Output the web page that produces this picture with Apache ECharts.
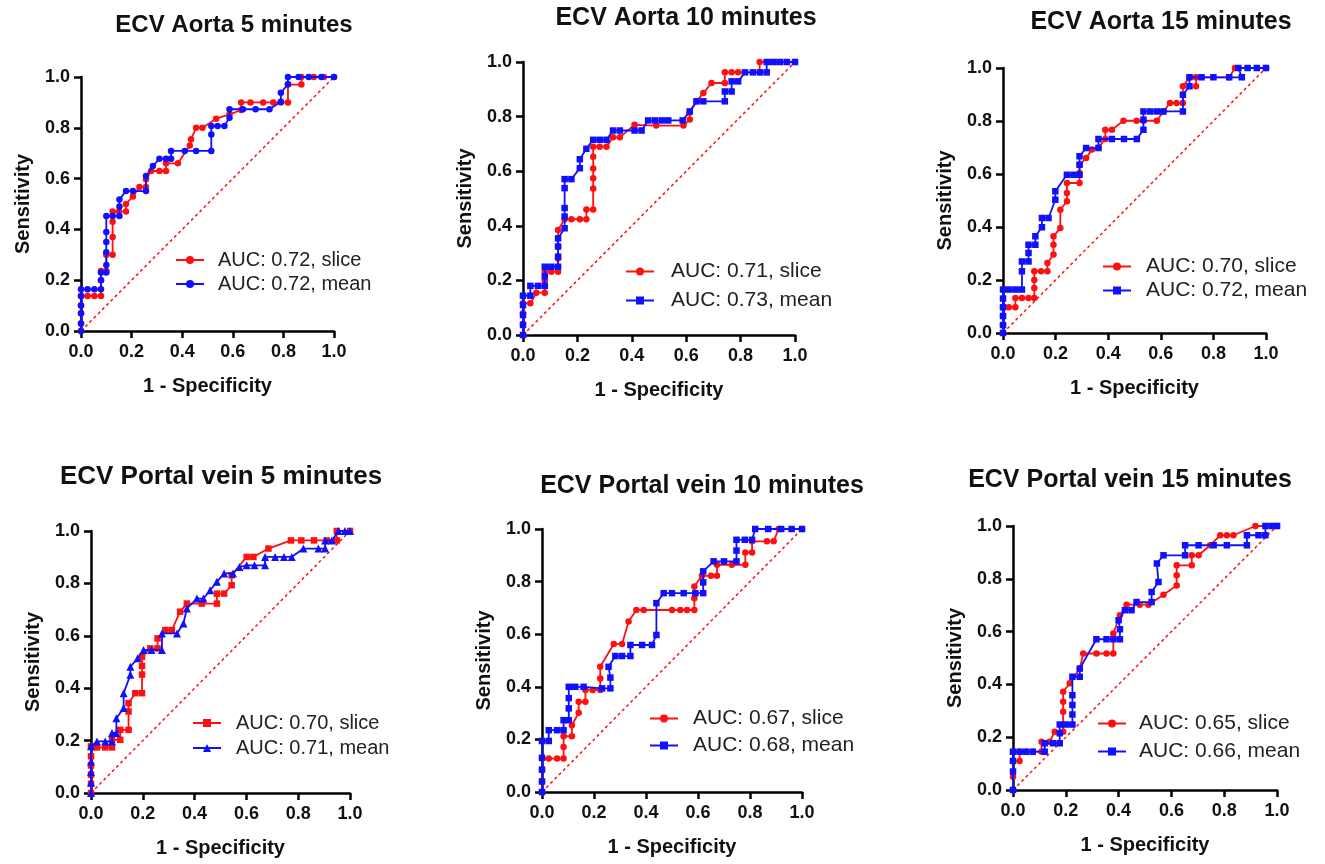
<!DOCTYPE html>
<html>
<head>
<meta charset="utf-8">
<script src="https://cdn.jsdelivr.net/npm/echarts@6/dist/echarts.min.js"></script>
<style>
  html, body { margin: 0; padding: 0; background: #fff; }
  #chart { width: 1325px; height: 864px; }
</style>
</head>
<body>
<div id="chart"></div>
<script>
// tick labels shared by every panel
const ticks = [0, 0.2, 0.4, 0.6, 0.8, 1.0];

const titles = [
  'ECV Aorta 5 minutes', 'ECV Aorta 10 minutes', 'ECV Aorta 15 minutes',
  'ECV Portal vein 5 minutes', 'ECV Portal vein 10 minutes', 'ECV Portal vein 15 minutes'
];
const sliceLabels = ['AUC: 0.72, slice', 'AUC: 0.71, slice', 'AUC: 0.70, slice',
  'AUC: 0.70, slice', 'AUC: 0.67, slice', 'AUC: 0.65, slice'];
const meanLabels = ['AUC: 0.72, mean', 'AUC: 0.73, mean', 'AUC: 0.72, mean',
  'AUC: 0.71, mean', 'AUC: 0.68, mean', 'AUC: 0.66, mean'];

// ROC points [1 - specificity, sensitivity]
const p1Slice = [[0,0],[0,0.03],[0,0.07],[0,0.1],[0,0.138],[0.026,0.138],[0.053,0.138],[0.079,0.138],[0.079,0.2],[0.079,0.236],[0.1,0.236],[0.1,0.3],[0.125,0.3],[0.125,0.37],[0.125,0.43],[0.125,0.47],[0.15,0.47],[0.178,0.47],[0.178,0.5],[0.205,0.53],[0.231,0.567],[0.257,0.567],[0.257,0.597],[0.277,0.63],[0.31,0.63],[0.336,0.63],[0.336,0.66],[0.383,0.66],[0.43,0.73],[0.435,0.755],[0.455,0.8],[0.48,0.8],[0.534,0.836],[0.587,0.853],[0.633,0.87],[0.633,0.9],[0.67,0.9],[0.72,0.9],[0.76,0.9],[0.79,0.9],[0.818,0.9],[0.818,0.97],[0.871,0.97],[0.871,1.0],[0.92,1.0],[0.96,1.0],[1.0,1.0]];
const p1Mean = [[0,0],[0,0.03],[0,0.07],[0,0.1],[0,0.138],[0,0.164],[0.026,0.164],[0.053,0.164],[0.079,0.164],[0.079,0.2],[0.079,0.23],[0.1,0.23],[0.1,0.26],[0.1,0.31],[0.1,0.35],[0.1,0.39],[0.1,0.453],[0.125,0.453],[0.152,0.453],[0.152,0.49],[0.152,0.518],[0.178,0.551],[0.205,0.551],[0.257,0.551],[0.257,0.61],[0.284,0.65],[0.31,0.678],[0.336,0.678],[0.356,0.678],[0.356,0.709],[0.41,0.709],[0.455,0.709],[0.515,0.709],[0.515,0.774],[0.515,0.807],[0.54,0.807],[0.567,0.807],[0.587,0.84],[0.587,0.873],[0.64,0.873],[0.69,0.873],[0.745,0.873],[0.79,0.903],[0.79,0.938],[0.818,0.971],[0.818,1.0],[0.86,1.0],[0.9,1.0],[0.95,1.0],[1.0,1.0]];

const p2Slice = [[0,0],[0,0.04],[0,0.08],[0,0.116],[0.027,0.116],[0.049,0.155],[0.08,0.155],[0.08,0.2],[0.08,0.232],[0.104,0.232],[0.129,0.232],[0.129,0.28],[0.129,0.325],[0.129,0.385],[0.153,0.424],[0.178,0.424],[0.209,0.424],[0.233,0.424],[0.233,0.46],[0.258,0.46],[0.258,0.537],[0.258,0.574],[0.258,0.61],[0.258,0.653],[0.258,0.69],[0.282,0.69],[0.307,0.69],[0.331,0.724],[0.356,0.724],[0.41,0.77],[0.49,0.767],[0.59,0.767],[0.613,0.789],[0.613,0.815],[0.638,0.856],[0.663,0.886],[0.693,0.923],[0.742,0.923],[0.742,0.962],[0.767,0.962],[0.791,0.962],[0.87,0.962],[0.87,1.0],[0.93,1.0],[1.0,1.0]];
const p2Mean = [[0,0],[0,0.037],[0,0.073],[0,0.11],[0,0.144],[0.027,0.144],[0.027,0.18],[0.055,0.18],[0.08,0.18],[0.08,0.215],[0.08,0.25],[0.104,0.25],[0.129,0.25],[0.129,0.287],[0.129,0.324],[0.129,0.354],[0.153,0.391],[0.153,0.434],[0.153,0.465],[0.153,0.538],[0.153,0.571],[0.178,0.571],[0.209,0.611],[0.209,0.644],[0.233,0.682],[0.258,0.715],[0.282,0.715],[0.307,0.715],[0.331,0.749],[0.356,0.749],[0.41,0.749],[0.436,0.749],[0.46,0.786],[0.485,0.786],[0.51,0.786],[0.534,0.786],[0.587,0.786],[0.613,0.819],[0.638,0.856],[0.663,0.856],[0.742,0.856],[0.742,0.892],[0.767,0.892],[0.767,0.929],[0.791,0.929],[0.816,0.962],[0.845,0.962],[0.871,0.962],[0.896,0.962],[0.896,1.0],[0.92,1.0],[0.945,1.0],[0.97,1.0],[1.0,1.0]];

const p3Slice = [[0,0],[0,0.03],[0,0.064],[0,0.097],[0.022,0.097],[0.047,0.097],[0.047,0.132],[0.072,0.132],[0.097,0.132],[0.119,0.132],[0.119,0.17],[0.119,0.2],[0.119,0.233],[0.145,0.233],[0.169,0.233],[0.169,0.264],[0.192,0.296],[0.192,0.333],[0.192,0.365],[0.218,0.396],[0.218,0.465],[0.243,0.497],[0.243,0.528],[0.243,0.566],[0.291,0.566],[0.291,0.604],[0.291,0.635],[0.316,0.66],[0.338,0.692],[0.363,0.7],[0.389,0.732],[0.389,0.767],[0.414,0.767],[0.458,0.801],[0.508,0.801],[0.534,0.801],[0.585,0.801],[0.61,0.836],[0.635,0.868],[0.66,0.868],[0.684,0.868],[0.684,0.931],[0.71,0.965],[0.734,0.965],[0.734,0.931],[0.734,0.965],[0.86,0.965],[0.882,1.0],[1.0,1.0]];
const p3Mean = [[0,0],[0,0.03],[0,0.064],[0,0.097],[0,0.13],[0,0.164],[0.024,0.164],[0.048,0.164],[0.072,0.164],[0.072,0.233],[0.072,0.27],[0.097,0.27],[0.097,0.302],[0.097,0.333],[0.123,0.333],[0.123,0.365],[0.148,0.399],[0.148,0.434],[0.173,0.434],[0.199,0.503],[0.199,0.535],[0.243,0.597],[0.268,0.597],[0.291,0.597],[0.291,0.635],[0.291,0.667],[0.316,0.698],[0.363,0.698],[0.363,0.732],[0.414,0.732],[0.46,0.732],[0.509,0.732],[0.534,0.767],[0.534,0.805],[0.534,0.836],[0.56,0.836],[0.585,0.836],[0.61,0.836],[0.684,0.836],[0.684,0.899],[0.709,0.931],[0.709,0.965],[0.755,0.965],[0.8,0.965],[0.86,0.965],[0.908,0.965],[0.895,1.0],[0.93,1.0],[0.965,1.0],[1.0,1.0]];

const p4Slice = [[0,0],[0,0.035],[0,0.07],[0,0.105],[0,0.14],[0,0.178],[0.023,0.174],[0.055,0.174],[0.081,0.174],[0.081,0.203],[0.113,0.203],[0.113,0.241],[0.145,0.241],[0.145,0.311],[0.145,0.343],[0.171,0.381],[0.197,0.381],[0.197,0.452],[0.197,0.485],[0.197,0.52],[0.229,0.552],[0.257,0.552],[0.257,0.59],[0.287,0.622],[0.312,0.622],[0.344,0.692],[0.37,0.723],[0.428,0.723],[0.486,0.723],[0.486,0.761],[0.514,0.761],[0.543,0.793],[0.543,0.831],[0.601,0.901],[0.627,0.901],[0.685,0.933],[0.772,0.964],[0.812,0.964],[0.861,0.964],[0.91,0.964],[0.949,0.964],[0.949,1.0],[1.0,1.0]];
const p4Mean = [[0,0],[0,0.04],[0,0.08],[0,0.12],[0,0.178],[0.023,0.197],[0.055,0.197],[0.081,0.197],[0.081,0.229],[0.098,0.229],[0.098,0.285],[0.126,0.324],[0.126,0.381],[0.152,0.451],[0.152,0.482],[0.18,0.514],[0.203,0.546],[0.233,0.546],[0.274,0.546],[0.274,0.609],[0.332,0.609],[0.357,0.647],[0.37,0.704],[0.409,0.742],[0.434,0.742],[0.46,0.774],[0.486,0.806],[0.514,0.838],[0.548,0.838],[0.573,0.863],[0.601,0.869],[0.631,0.869],[0.672,0.869],[0.672,0.901],[0.711,0.901],[0.745,0.901],[0.775,0.901],[0.82,0.933],[0.878,0.933],[0.904,0.933],[0.904,0.964],[0.93,0.964],[0.955,1.0],[0.98,1.0],[1.0,1.0]];

const p5Slice = [[0,0],[0,0.04],[0,0.085],[0,0.127],[0.026,0.127],[0.058,0.127],[0.083,0.127],[0.083,0.171],[0.083,0.212],[0.115,0.212],[0.115,0.254],[0.141,0.301],[0.141,0.343],[0.167,0.343],[0.167,0.388],[0.195,0.388],[0.224,0.388],[0.224,0.432],[0.224,0.476],[0.276,0.563],[0.308,0.563],[0.333,0.648],[0.363,0.692],[0.391,0.692],[0.5,0.692],[0.532,0.692],[0.558,0.692],[0.586,0.692],[0.586,0.737],[0.586,0.781],[0.615,0.822],[0.65,0.822],[0.673,0.822],[0.673,0.864],[0.73,0.864],[0.782,0.864],[0.782,0.911],[0.808,0.911],[0.808,0.953],[0.865,0.953],[0.891,0.953],[0.91,1.0],[1.0,1.0]];
const p5Mean = [[0,0],[0,0.04],[0,0.085],[0,0.13],[0,0.194],[0.026,0.194],[0.026,0.235],[0.058,0.235],[0.083,0.235],[0.083,0.273],[0.103,0.273],[0.103,0.318],[0.103,0.357],[0.103,0.4],[0.128,0.4],[0.16,0.4],[0.231,0.394],[0.263,0.394],[0.263,0.435],[0.256,0.476],[0.282,0.517],[0.308,0.517],[0.34,0.517],[0.34,0.559],[0.385,0.559],[0.423,0.559],[0.44,0.597],[0.44,0.718],[0.468,0.756],[0.5,0.756],[0.545,0.756],[0.59,0.756],[0.62,0.756],[0.62,0.797],[0.62,0.839],[0.66,0.877],[0.7,0.877],[0.748,0.877],[0.748,0.918],[0.748,0.959],[0.78,0.959],[0.808,0.959],[0.82,1.0],[0.87,1.0],[0.92,1.0],[0.96,1.0],[1.0,1.0]];

const p6Slice = [[0,0],[0,0.05],[0,0.11],[0.025,0.11],[0.025,0.145],[0.05,0.145],[0.076,0.145],[0.108,0.145],[0.108,0.183],[0.139,0.183],[0.158,0.221],[0.19,0.221],[0.19,0.296],[0.19,0.334],[0.19,0.372],[0.215,0.404],[0.253,0.46],[0.266,0.517],[0.316,0.517],[0.354,0.517],[0.38,0.517],[0.38,0.593],[0.405,0.662],[0.43,0.702],[0.48,0.702],[0.513,0.702],[0.57,0.74],[0.62,0.775],[0.62,0.813],[0.62,0.851],[0.677,0.851],[0.677,0.889],[0.703,0.889],[0.747,0.927],[0.785,0.965],[0.81,0.965],[0.835,0.965],[0.918,1.0],[1.0,1.0]];
const p6Mean = [[0,0],[0,0.07],[0,0.11],[0,0.145],[0.025,0.145],[0.05,0.145],[0.075,0.145],[0.12,0.145],[0.12,0.177],[0.152,0.177],[0.177,0.177],[0.177,0.215],[0.177,0.248],[0.2,0.248],[0.225,0.248],[0.225,0.286],[0.225,0.322],[0.225,0.359],[0.225,0.429],[0.253,0.429],[0.253,0.46],[0.316,0.571],[0.354,0.571],[0.38,0.571],[0.405,0.571],[0.405,0.609],[0.4,0.643],[0.424,0.681],[0.449,0.681],[0.468,0.712],[0.525,0.712],[0.525,0.75],[0.551,0.788],[0.545,0.858],[0.57,0.889],[0.652,0.889],[0.652,0.927],[0.703,0.927],[0.76,0.927],[0.81,0.927],[0.886,0.927],[0.886,0.965],[0.93,0.965],[0.956,0.965],[0.956,1.0],[0.98,1.0],[1.0,1.0]];

const sliceData = [p1Slice, p2Slice, p3Slice, p4Slice, p5Slice, p6Slice];
const meanData = [p1Mean, p2Mean, p3Mean, p4Mean, p5Mean, p6Mean];
const chance = [[0, 0], [1, 1]];

// marker shapes per panel
const sliceSymbols = ['circle', 'circle', 'circle', 'rect', 'circle', 'circle'];
const meanSymbols = ['circle', 'rect', 'rect', 'triangle', 'rect', 'rect'];

// panel placement in page pixels (title centre, legend box, legend font)
const panels = [
  { l: 81, r: 334, t: 77, b: 331, tx: 234, ty: 25, tf: 24, lx: 175, ly: 250, lg: 4, lf: 20, lp: 9 },
  { l: 523, r: 795, t: 62, b: 335, tx: 686, ty: 18, tf: 25, lx: 625, ly: 261, lg: 8, lf: 21, lp: 12 },
  { l: 1003, r: 1266, t: 68, b: 333, tx: 1161, ty: 22, tf: 25, lx: 1102, ly: 256, lg: 3, lf: 21, lp: 10 },
  { l: 91, r: 350, t: 531, b: 793, tx: 221, ty: 477, tf: 26, lx: 192, ly: 713, lg: 5, lf: 20, lp: 10 },
  { l: 542, r: 802, t: 529, b: 792, tx: 702, ty: 486, tf: 25, lx: 649, ly: 708, lg: 6, lf: 21, lp: 10 },
  { l: 1013, r: 1277, t: 526, b: 790, tx: 1130, ty: 480, tf: 25, lx: 1097, ly: 713, lg: 7, lf: 21, lp: 8 }
];

const RED = '#ff1010';
const BLUE = '#1010ff';
const legendNames = {};

const option = {
  animation: false,
  textStyle: { fontFamily: 'Liberation Sans, Arial, sans-serif' },
  title: [], grid: [], xAxis: [], yAxis: [], legend: [], series: []
};

panels.forEach(function (p, i) {
  option.title.push({
    text: titles[i], left: p.tx, top: p.ty - p.tf / 2 - 1, textAlign: 'center', padding: 0,
    textStyle: { fontSize: p.tf, fontWeight: 'bold', color: '#111', lineHeight: p.tf + 2 }
  });
  option.grid.push({ left: p.l, top: p.t, width: p.r - p.l, height: p.b - p.t });
  const axisCommon = {
    type: 'value', min: ticks[0], max: ticks[ticks.length - 1], interval: 0.2,
    gridIndex: i, nameLocation: 'middle',
    nameTextStyle: { fontSize: 20, fontWeight: 'bold', color: '#111' },
    axisLine: { show: true, lineStyle: { color: '#000', width: 2.5 } },
    axisTick: { show: true, length: 7, lineStyle: { color: '#000', width: 2.5 } },
    splitLine: { show: false },
    axisLabel: {
      fontSize: 18, fontWeight: 'bold', color: '#111',
      formatter: function (v) { return v.toFixed(1); }
    }
  };
  option.xAxis.push(Object.assign({}, axisCommon, {
    name: '1 - Specificity', nameGap: 45,
    axisLabel: Object.assign({}, axisCommon.axisLabel, { margin: 12 })
  }));
  option.yAxis.push(Object.assign({}, axisCommon, {
    name: 'Sensitivity', nameGap: 48, nameRotate: 90,
    axisLabel: Object.assign({}, axisCommon.axisLabel, { margin: 11 })
  }));

  const sName = 's' + i, mName = 'm' + i;
  legendNames[sName] = sliceLabels[i];
  legendNames[mName] = meanLabels[i];

  option.legend.push({
    data: [sName, mName], orient: 'vertical', left: p.lx, top: p.ly, padding: 0,
    itemWidth: 28, itemHeight: 10, itemGap: p.lg,
    formatter: function (n) { return '{a|' + legendNames[n] + '}'; },
    textStyle: {
      rich: { a: { fontSize: p.lf, color: '#222', lineHeight: 22, padding: [0, 0, 0, p.lp] } }
    }
  });

  option.series.push({
    type: 'line', xAxisIndex: i, yAxisIndex: i, data: chance, symbol: 'none',
    silent: true, z: 1,
    lineStyle: { color: RED, width: 1.5, type: [3, 3] }
  });
  option.series.push({
    name: sName, type: 'line', xAxisIndex: i, yAxisIndex: i, data: sliceData[i],
    symbol: sliceSymbols[i], symbolSize: 6.5,
    itemStyle: { color: RED }, lineStyle: { color: RED, width: 1.8 }, z: 3
  });
  option.series.push({
    name: mName, type: 'line', xAxisIndex: i, yAxisIndex: i, data: meanData[i],
    symbol: meanSymbols[i], symbolSize: meanSymbols[i] === 'triangle' ? 8 : 6.5,
    itemStyle: { color: BLUE }, lineStyle: { color: BLUE, width: 1.8 }, z: 4
  });
});

const chart = echarts.init(document.getElementById('chart'));
chart.setOption(option);
</script>
</body>
</html>
